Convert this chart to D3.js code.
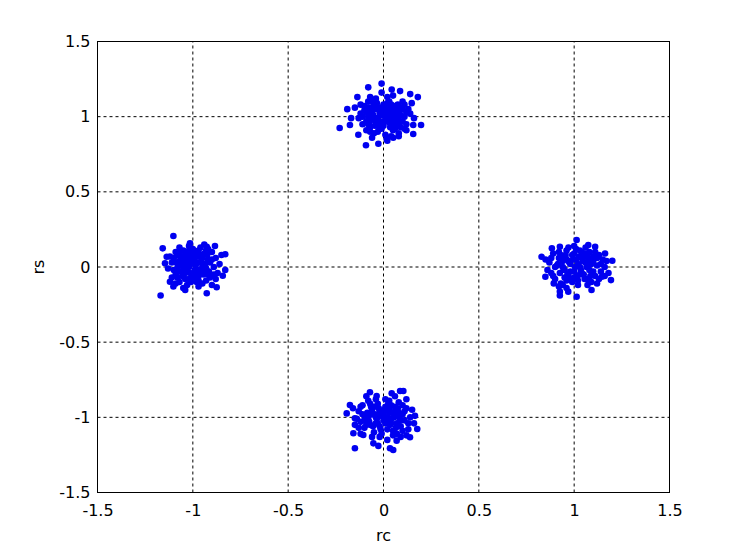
<!DOCTYPE html>
<html><head><meta charset="utf-8">
<script src="https://cdn.jsdelivr.net/npm/d3@7"></script>
<style>body{margin:0;background:#fff}svg{display:block}</style>
</head><body>
<script>
const xTicks = [-1.5,-1,-0.5,0,0.5,1,1.5];
const yTicks = [-1.5,-1,-0.5,0,0.5,1,1.5];
const xLabel = "rc", yLabel = "rs";

const clusterTop = [
[-0.08,1.195],[-0.01,1.22],[0.043,1.18],[0.087,1.17],[0.14,1.15],[0.18,1.13],[-0.137,1.13],[0.148,1.09],
[-0.19,1.05],[-0.23,0.925],[-0.17,0.99],[-0.176,0.945],[0.197,0.945],[0.156,0.945],[0.156,0.885],
[-0.132,0.88],[-0.092,0.81],[-0.027,0.82],[0.051,0.86],[0.017,0.85],
[-0.12,1.02],[-0.10,1.07],[-0.09,0.97],[-0.08,1.10],[-0.07,0.93],[-0.06,1.04],[-0.05,0.89],[-0.04,1.12],
[-0.03,0.99],[-0.02,1.06],[-0.01,0.92],[0.00,1.03],[0.01,0.88],[0.02,1.09],[0.03,0.96],[0.04,1.01],
[0.05,0.91],[0.06,1.07],[0.07,0.98],[0.08,1.04],[0.09,0.93],[0.10,1.10],[0.11,1.00],[0.12,0.95],
[0.13,1.05],[-0.11,0.95],[-0.08,1.00],[-0.05,1.08],[-0.03,0.94],[0.00,0.97],[0.02,1.13],[0.04,0.87],
[0.06,1.02],[0.08,0.89],[0.10,1.05],[-0.06,0.98],[-0.02,1.02],[0.03,1.05],[0.07,0.94],[-0.10,1.04],
[-0.04,0.96],[0.01,1.00],[0.05,0.98],[0.09,1.01],[-0.13,0.99],[-0.07,1.13],[0.11,1.08],[0.12,0.91],
[-0.01,1.16],[0.05,1.14],[-0.09,0.91],[0.14,1.02],[-0.15,1.06],[0.16,0.99],[-0.06,0.86],[0.02,0.84],[0.08,0.87],
[-0.085,1.03],[-0.075,0.96],[-0.065,1.06],[-0.055,1.01],[-0.045,0.94],[-0.035,1.09],[-0.025,0.97],[-0.015,1.04],
[-0.005,0.95],[0.005,1.07],[0.015,0.99],[0.025,1.02],[0.035,0.93],[0.045,1.06],[0.055,0.97],[0.065,1.03],
[0.075,1.08],[0.085,0.96],[-0.08,0.95],[-0.07,1.01],[-0.05,0.99],[-0.04,1.05],[-0.02,0.96],[-0.01,1.01],
[0.00,0.94],[0.01,1.05],[0.02,0.98],[0.03,1.02],[0.04,0.95],[0.05,1.04],[0.06,0.99],[0.07,1.06],[0.08,1.00],
[-0.06,1.11],[0.03,1.10],[-0.03,0.90],[0.06,0.92],[-0.09,1.06],[0.10,0.97],[0.12,1.03],[-0.11,1.00],
[0.00,1.08],[-0.02,0.93],[0.04,1.08],[0.09,1.06],[-0.07,0.90],[0.11,0.92],[-0.12,1.08]
];
const clusterLeft = [
[-1.102,0.206],[-1.158,0.124],[-1.169,-0.19],[-1.015,0.158],[-0.884,0.14],[-0.83,0.085],[-0.83,-0.02],
[-0.843,-0.058],[-0.875,-0.135],[-0.927,-0.175],[-0.97,-0.13],[-1.04,-0.153],[-1.102,-0.13],[-1.12,-0.098],
[-1.146,0.025],[-1.137,0.068],[-0.927,0.135],[-1.067,0.102],
[-1.11,0.03],[-1.09,-0.05],[-1.08,0.08],[-1.07,-0.10],[-1.06,0.01],[-1.05,0.11],[-1.04,-0.04],[-1.03,0.06],
[-1.02,-0.08],[-1.01,0.02],[-1.00,0.12],[-0.99,-0.02],[-0.98,0.07],[-0.97,-0.06],[-0.96,0.03],[-0.95,-0.11],
[-0.94,0.09],[-0.93,-0.01],[-0.92,0.05],[-0.91,-0.07],[-0.90,0.10],[-0.89,0.00],[-0.88,0.06],[-0.87,-0.04],
[-1.10,-0.02],[-1.06,0.05],[-1.03,-0.12],[-1.01,0.08],[-0.99,0.04],[-0.97,0.11],[-0.95,0.00],[-0.93,-0.09],
[-0.91,0.03],[-1.08,-0.07],[-1.04,0.02],[-1.00,-0.05],[-0.96,-0.03],[-0.92,0.12],[-1.12,0.07],[-1.13,-0.01],
[-0.86,0.02],[-0.85,0.08],[-1.02,0.14],[-0.98,-0.10],[-1.05,-0.14],[-0.94,0.15],[-1.07,0.13],[-0.90,-0.12],
[-0.88,-0.08],[-1.09,0.10],
[-1.085,0.03],[-1.075,-0.03],[-1.065,0.07],[-1.055,-0.06],[-1.045,0.04],[-1.035,-0.01],[-1.025,0.09],[-1.015,-0.04],
[-1.005,0.05],[-0.995,-0.07],[-0.985,0.01],[-0.975,0.08],[-0.965,-0.02],[-0.955,0.05],[-0.945,-0.05],[-0.935,0.02],
[-0.925,0.08],[-0.915,-0.03],[-1.08,0.00],[-1.06,-0.03],[-1.04,0.08],[-1.02,0.00],[-1.00,0.07],[-0.98,0.03],
[-0.96,0.08],[-0.94,-0.02],[-0.92,-0.05],[-1.07,0.04],[-1.03,0.03],[-0.99,0.10],[-0.97,-0.09],[-0.95,0.06],
[-1.01,-0.10],[-1.05,0.00],[-0.90,0.05],[-0.93,0.11],[-1.10,0.06],[-1.11,-0.07],[-0.89,-0.05],[-1.02,0.11],
[-0.98,-0.04],[-1.04,-0.08],[-0.96,0.13],[-1.09,-0.11]
];
const clusterRight = [
[1.013,0.18],[1.074,0.146],[0.925,0.135],[0.829,0.068],[1.2,0.042],[0.849,-0.065],[0.893,-0.109],
[0.925,-0.164],[0.925,-0.19],[1.013,-0.198],[1.091,-0.153],[1.193,-0.087],[1.145,-0.065],[0.969,-0.164],
[1.162,0.09],[1.11,0.135],[0.883,0.124],
[0.87,0.03],[0.88,-0.04],[0.89,0.09],[0.90,-0.08],[0.91,0.01],[0.92,0.06],[0.93,-0.11],[0.94,0.04],
[0.95,-0.02],[0.96,0.11],[0.97,-0.06],[0.98,0.02],[0.99,0.08],[1.00,-0.03],[1.01,0.05],[1.02,-0.09],
[1.03,0.00],[1.04,0.10],[1.05,-0.05],[1.06,0.03],[1.07,0.07],[1.08,-0.02],[1.09,-0.10],[1.10,0.04],
[1.11,-0.06],[1.12,0.01],[1.13,0.08],[1.14,-0.03],[1.15,0.05],[0.90,0.00],[0.93,0.08],[0.95,-0.07],
[0.97,0.04],[0.99,-0.10],[1.01,0.12],[1.03,-0.05],[1.05,0.07],[1.07,-0.12],[1.09,0.02],[1.11,0.10],
[1.13,-0.08],[0.86,-0.02],[0.92,-0.13],[1.00,0.14],[1.06,0.13],[0.96,-0.14],[1.16,0.00],[1.17,0.04],
[1.18,-0.04],[0.85,0.05],
[0.915,0.02],[0.925,-0.04],[0.935,0.06],[0.945,-0.01],[0.955,0.08],[0.965,-0.05],[0.975,0.03],[0.985,-0.08],
[0.995,0.05],[1.005,0.00],[1.015,-0.06],[1.025,0.07],[1.035,-0.02],[1.045,0.04],[1.055,-0.08],[1.065,0.00],
[1.075,0.05],[1.085,-0.06],[0.94,0.00],[0.96,0.05],[0.98,-0.03],[1.00,0.09],[1.02,0.02],[1.04,-0.04],
[1.06,0.09],[1.08,0.02],[1.10,-0.03],[0.92,0.10],[0.96,-0.09],[1.00,-0.07],[1.04,0.06],[1.08,0.10],
[1.12,0.06],[0.89,-0.06],[1.02,-0.12],[1.07,-0.08],[0.94,-0.12],[1.14,0.02],[1.10,0.07],[0.97,0.13],
[1.03,0.11],[0.88,0.06],[1.12,-0.11],[1.16,-0.06]
];
const clusterBottom = [
[-0.071,-0.833],[-0.036,-0.858],[0.043,-0.84],[0.087,-0.825],[0.104,-0.825],[-0.176,-0.918],[-0.193,-0.974],
[0.165,-0.99],[0.177,-1.078],[0.139,-1.132],[-0.158,-1.106],[-0.15,-1.206],[-0.053,-1.173],[-0.027,-1.19],
[0.034,-1.206],[0.051,-1.217],[0.069,-1.155],[-0.106,-1.118],[-0.15,-1.006],
[-0.13,-0.96],[-0.12,-1.03],[-0.11,-0.92],[-0.10,-1.07],[-0.09,-0.99],[-0.08,-0.89],[-0.07,-1.05],[-0.06,-0.95],
[-0.05,-1.10],[-0.04,-1.00],[-0.03,-0.91],[-0.02,-1.06],[-0.01,-0.97],[0.00,-1.02],[0.01,-0.88],[0.02,-1.08],
[0.03,-0.94],[0.04,-1.01],[0.05,-1.12],[0.06,-0.96],[0.07,-1.04],[0.08,-0.90],[0.09,-1.06],[0.10,-0.98],
[0.11,-1.02],[0.12,-0.94],[0.13,-1.08],[0.14,-1.00],[-0.14,-1.01],[-0.11,-0.98],[-0.08,-1.02],[-0.05,-0.93],
[-0.02,-0.99],[0.01,-1.04],[0.04,-0.92],[0.07,-0.99],[0.10,-1.09],[-0.06,-1.13],[0.02,-1.15],[-0.09,-0.86],
[0.06,-0.86],[0.12,-0.88],[-0.16,-0.94],[0.15,-0.95],[-0.12,-1.11],[0.09,-1.13],[-0.03,-1.04],[0.03,-0.97],
[-0.15,-1.05],[0.16,-1.04],
[-0.085,-0.97],[-0.075,-1.03],[-0.065,-0.93],[-0.055,-1.06],[-0.045,-0.98],[-0.035,-1.01],[-0.025,-0.94],[-0.015,-1.08],
[-0.005,-0.99],[0.005,-0.95],[0.015,-1.02],[0.025,-0.91],[0.035,-1.05],[0.045,-0.97],[0.055,-1.00],[0.065,-1.07],
[0.075,-0.94],[0.085,-1.01],[-0.08,-1.00],[-0.06,-0.98],[-0.04,-1.04],[-0.02,-0.96],[0.00,-0.98],[0.02,-1.00],
[0.04,-1.04],[0.06,-0.93],[0.08,-0.97],[-0.10,-1.02],[-0.07,-0.91],[-0.01,-1.11],[0.03,-0.89],[0.09,-1.02],
[0.11,-0.96],[-0.12,-0.93],[0.13,-1.04],[-0.04,-0.88],[0.05,-1.09],[-0.09,-1.05],[0.01,-0.93],[0.07,-1.11],
[-0.13,-1.07],[0.10,-0.92],[-0.02,-1.13],[0.12,-1.12]
];

const W = 741, H = 555;
const m = {left: 97.5, top: 41.5, right: 741 - 669.5, bottom: 555 - 492.5};
const svg = d3.select("body").append("svg").attr("width", W).attr("height", H);
const x = d3.scaleLinear().domain([-1.5, 1.5]).range([m.left, W - m.right]);
const y = d3.scaleLinear().domain([-1.5, 1.5]).range([H - m.bottom, m.top]);
const font = "DejaVu Sans, sans-serif";

// grid
const g = svg.append("g");
g.selectAll(".vg").data(xTicks.slice(1, -1)).enter().append("line")
  .attr("x1", d => x(d)).attr("x2", d => x(d)).attr("y1", y(-1.5)).attr("y2", y(1.5))
  .attr("stroke", "#000").attr("stroke-width", 1).attr("stroke-dasharray", "3,3");
g.selectAll(".hg").data(yTicks.slice(1, -1)).enter().append("line")
  .attr("y1", d => y(d)).attr("y2", d => y(d)).attr("x1", x(-1.5)).attr("x2", x(1.5))
  .attr("stroke", "#000").attr("stroke-width", 1).attr("stroke-dasharray", "3,3");

// points
const all = [].concat(clusterTop, clusterLeft, clusterRight, clusterBottom);
svg.append("g").selectAll("circle").data(all).enter().append("circle")
  .attr("cx", d => x(d[0])).attr("cy", d => y(d[1])).attr("r", 3.3)
  .attr("fill", "#0000f0");

// box
svg.append("rect").attr("x", x(-1.5)).attr("y", y(1.5))
  .attr("width", x(1.5) - x(-1.5)).attr("height", y(-1.5) - y(1.5))
  .attr("fill", "none").attr("stroke", "#000").attr("stroke-width", 1);

// axes
const fmt = d => String(d);
const xa = svg.append("g").attr("transform", `translate(0,${y(-1.5)})`)
  .call(d3.axisBottom(x).tickValues(xTicks).tickFormat(fmt).tickSize(0).tickPadding(12));
const ya = svg.append("g").attr("transform", `translate(${x(-1.5)},0)`)
  .call(d3.axisLeft(y).tickValues(yTicks).tickFormat(fmt).tickSize(0).tickPadding(7));
[xa, ya].forEach(a => {
  a.select(".domain").remove();
  a.selectAll("text").attr("font-family", font).attr("font-size", 16).attr("fill", "#000");
});

svg.append("text").attr("x", x(0)).attr("y", 541).attr("text-anchor", "middle")
  .attr("font-family", font).attr("font-size", 16).text(xLabel);
svg.append("text").attr("transform", `translate(44,${y(0)}) rotate(-90)`).attr("text-anchor", "middle")
  .attr("font-family", font).attr("font-size", 16).text(yLabel);
</script>
</body></html>
